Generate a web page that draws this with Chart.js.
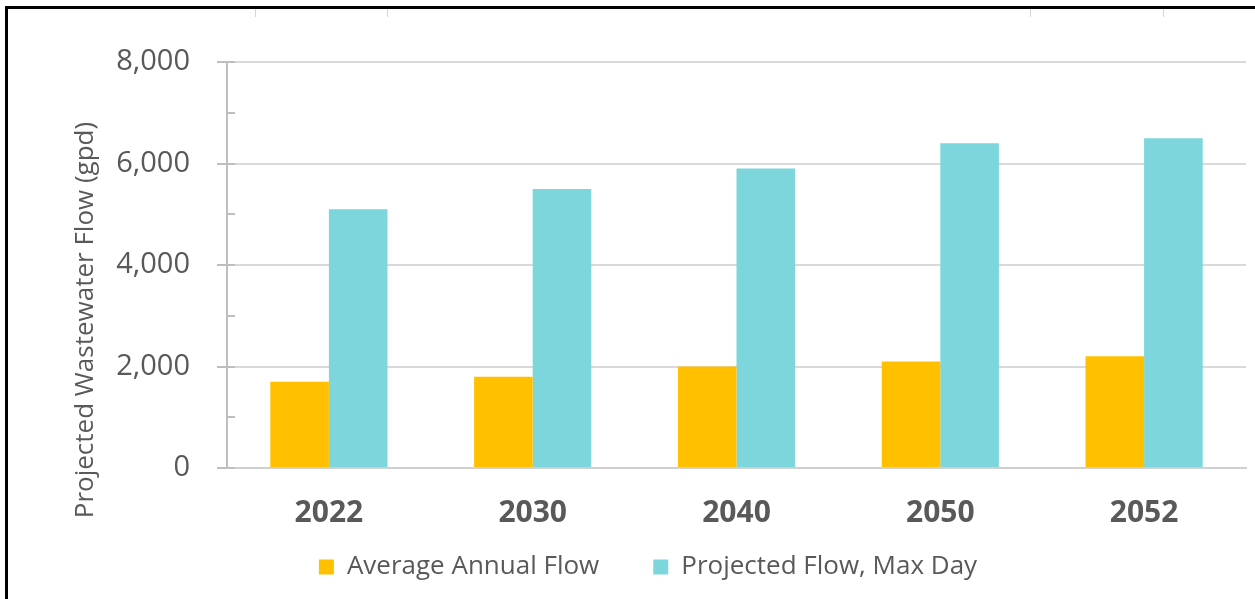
<!DOCTYPE html>
<html>
<head>
<meta charset="utf-8">
<script src="https://cdn.jsdelivr.net/npm/chart.js@4"></script>
<style>
  html, body { margin: 0; padding: 0; background: #fff; }
  #wrap { position: relative; width: 1255px; height: 599px; overflow: hidden; }
  #myChart { position: absolute; left: 0; top: 0; }
  .edge { position: absolute; background: #000; }
  .cell { position: absolute; top: 9px; width: 1px; height: 8px; background: #d4d4d4; }
</style>
</head>
<body>
<div id="wrap">
  <canvas id="myChart" width="1255" height="599"></canvas>
  <div class="edge" style="left:5px; top:6px; width:1250px; height:3px;"></div>
  <div class="edge" style="left:5px; top:6px; width:3px; height:593px;"></div>
  <div class="cell" style="left:255px;"></div>
  <div class="cell" style="left:387px;"></div>
  <div class="cell" style="left:1030px;"></div>
  <div class="cell" style="left:1163px;"></div>
</div>
<script>
const years = ['2022', '2030', '2040', '2050', '2052'];
const averageAnnualFlow = [1700, 1800, 2000, 2100, 2200];
const maxDayFlow = [5100, 5500, 5900, 6400, 6500];
const minorTicks = [1000, 3000, 5000, 7000];
const majorTicks = [0, 2000, 4000, 6000, 8000];
const yTitle = 'Projected Wastewater Flow (gpd)';

const textGrey = '#595959';
const axisGrey = '#bfbfbf';

// the wide label padding would make the legend too tall, so its height is
// fixed for layout and the box is moved up afterwards
const legendFit = {
  id: 'legendFit',
  beforeInit(chart) {
    const fit = chart.legend.fit;
    chart.legend.fit = function () {
      fit.call(this);
      this.height = 69;
    };
  },
  afterLayout(chart) {
    chart.legend.top = chart.legend.bottom - 99;
  },
};

// inner tick marks on the value axis + rotated axis title
const axisExtras = {
  id: 'axisExtras',
  afterDraw(chart) {
    const c = chart.ctx;
    const y = chart.scales.y;
    c.save();
    c.strokeStyle = axisGrey;
    c.lineWidth = 2;
    minorTicks.concat(majorTicks).forEach((v) => {
      const py = Math.round(y.getPixelForValue(v));
      c.beginPath();
      c.moveTo(y.right, py);
      c.lineTo(y.right + 8, py);
      c.stroke();
    });
    c.translate(93, 320);
    c.rotate(-Math.PI / 2);
    c.fillStyle = textGrey;
    c.font = '26px "Open Sans"';
    c.textAlign = 'center';
    c.textBaseline = 'alphabetic';
    c.fillText(yTitle, 0, 0);
    c.restore();
  },
};

const ctx = document.getElementById('myChart').getContext('2d');
const myChart = new Chart(ctx, {
  type: 'bar',
  data: {
    labels: years,
    datasets: [
      {
        label: 'Average Annual Flow',
        data: averageAnnualFlow,
        backgroundColor: '#ffc000',
        categoryPercentage: 0.575,
        barPercentage: 1,
      },
      {
        label: 'Projected Flow, Max Day',
        data: maxDayFlow,
        backgroundColor: '#7dd6db',
        categoryPercentage: 0.575,
        barPercentage: 1,
      },
    ],
  },
  options: {
    responsive: false,
    animation: false,
    layout: {
      padding: { left: 50, right: 9, top: 62, bottom: 0 },
    },
    plugins: {
      tooltip: { enabled: false },
      legend: {
        position: 'bottom',
        labels: {
          boxWidth: 15,
          boxHeight: 15,
          padding: 54,
          color: textGrey,
          font: { family: 'Open Sans', size: 26 },
        },
      },
    },
    scales: {
      x: {
        afterFit(scale) { scale.height = 62; },
        grid: { display: false, drawTicks: false },
        border: { display: true, color: '#d0d0d0', width: 2 },
        ticks: {
          padding: 27,
          color: textGrey,
          font: { family: 'Open Sans', size: 30, weight: 'bold' },
        },
      },
      y: {
        min: 0,
        max: 8000,
        afterFit(scale) { scale.width = 177; },
        grid: {
          color: '#d9d9d9',
          lineWidth: 2,
          tickLength: 10,
          tickColor: axisGrey,
        },
        border: { color: axisGrey, width: 2 },
        ticks: {
          stepSize: 2000,
          padding: 27,
          color: textGrey,
          font: { family: 'Open Sans', size: 29 },
        },
      },
    },
  },
  plugins: [legendFit, axisExtras],
});
</script>
</body>
</html>
